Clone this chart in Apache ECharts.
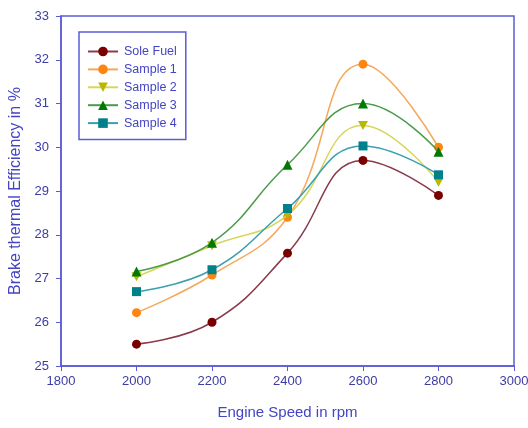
<!DOCTYPE html>
<html>
<head>
<meta charset="utf-8">
<script src="https://cdn.jsdelivr.net/npm/echarts@6/dist/echarts.min.js"></script>
<style>
  html, body { margin: 0; padding: 0; background: #fff; }
  #chart { width: 528px; height: 428px; }
</style>
</head>
<body>
<div id="chart"></div>
<script>
// Engine speed (rpm) on the x axis
const speeds = [2000, 2200, 2400, 2600, 2800];

// Brake thermal efficiency (%) per fuel
const soleFuel = [25.5, 26.0, 27.58, 29.7, 28.9];
const sample1  = [26.22, 27.08, 28.4, 31.9, 30.0];
const sample2  = [27.04, 27.75, 28.45, 30.5, 29.2];
const sample3  = [27.16, 27.82, 29.6, 31.0, 29.9];
const sample4  = [26.7, 27.2, 28.6, 30.03, 29.37];

const seriesNames = ['Sole Fuel', 'Sample 1', 'Sample 2', 'Sample 3', 'Sample 4'];

const axisBlue = '#5b5bd6';
const labelBlue = '#3c3ca6';
const titleBlue = '#4444c4';
const font = 'Liberation Sans, Arial, sans-serif';

const downTriangle = 'path://M0,0L10,0L5,9Z';

const styles = [
  { line: '#8a3a4a', mark: '#7a0000', symbol: 'circle', size: 9 },
  { line: '#f5a85a', mark: '#ff8410', symbol: 'circle', size: 9 },
  { line: '#d6d65a', mark: '#b8b800', symbol: downTriangle, size: [10, 9] },
  { line: '#4a9a4a', mark: '#007a00', symbol: 'triangle', size: 10 },
  { line: '#3aa0b0', mark: '#00808a', symbol: 'rect', size: 9 }
];

const values = [soleFuel, sample1, sample2, sample3, sample4];

const chart = echarts.init(document.getElementById('chart'));

chart.setOption({
  animation: false,
  backgroundColor: '#ffffff',
  grid: {
    left: 61, right: 14, top: 16, bottom: 62,
    outerBoundsMode: 'none', containLabel: false,
    show: true, borderColor: axisBlue, borderWidth: 1.5
  },
  legend: {
    left: 79, top: 32,
    orient: 'vertical',
    padding: [13, 9, 10, 8],
    itemWidth: 30, itemHeight: 12, itemGap: 4.9,
    borderColor: axisBlue, borderWidth: 1.5,
    textStyle: { color: titleBlue, fontFamily: font, fontSize: 12.5, padding: [0, 0, 0, 1] },
    data: seriesNames
  },
  xAxis: {
    type: 'value', min: 1800, max: 3000, interval: 200,
    name: 'Engine Speed in rpm', nameLocation: 'middle', nameGap: 39,
    nameTextStyle: { color: titleBlue, fontFamily: font, fontSize: 15 },
    axisLine: { show: true, lineStyle: { color: axisBlue, width: 1.5 } },
    axisTick: { show: true, length: 5, lineStyle: { color: axisBlue } },
    axisLabel: { color: labelBlue, fontFamily: font, fontSize: 13, margin: 9, formatter: v => String(v) },
    splitLine: { show: false }
  },
  yAxis: {
    type: 'value', min: 25, max: 33, interval: 1,
    name: 'Brake thermal Efficiency in %', nameLocation: 'middle', nameGap: 35,
    nameTextStyle: { color: titleBlue, fontFamily: font, fontSize: 16 },
    axisLine: { show: true, lineStyle: { color: axisBlue, width: 1.5 } },
    axisTick: { show: true, length: 5, lineStyle: { color: axisBlue } },
    axisLabel: { color: labelBlue, fontFamily: font, fontSize: 13, margin: 12 },
    splitLine: { show: false }
  },
  series: seriesNames.map((name, i) => ({
    name: name,
    type: 'line',
    smooth: 0.45,
    data: speeds.map((s, k) => [s, values[i][k]]),
    symbol: styles[i].symbol,
    symbolSize: styles[i].size,
    lineStyle: { color: styles[i].line, width: 1.5 },
    itemStyle: { color: styles[i].mark, borderWidth: 0 },
    z: 2 + i
  }))
});
</script>
</body>
</html>
